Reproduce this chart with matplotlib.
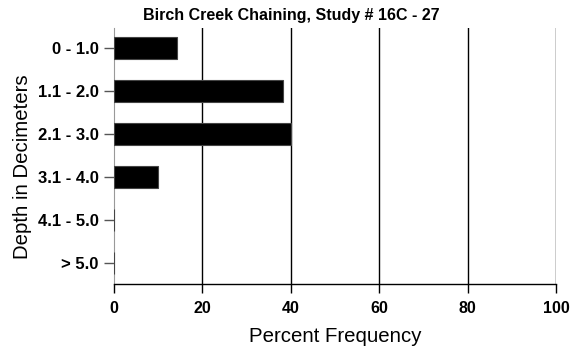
import matplotlib
matplotlib.use("Agg")
import matplotlib.pyplot as plt

# depth classes (top to bottom) and their percent frequency
depths = ['0 - 1.0', '1.1 - 2.0', '2.1 - 3.0', '3.1 - 4.0', '4.1 - 5.0', '> 5.0']
freq = [14.3, 38.2, 40.0, 10.0, 0.0, 0.0]
xticks = [0, 20, 40, 60, 80, 100]

plt.rcParams['font.family'] = ['Liberation Sans', 'DejaVu Sans']

fig = plt.figure(figsize=(5.72, 3.47), dpi=100)
ax = fig.add_axes([0.1993, 0.1816, 0.7727, 0.7374])

ypos = list(range(len(depths)))
ax.barh(ypos, freq, height=0.52, color='black', edgecolor='#444444', linewidth=0.8, zorder=3)

ax.set_xlim(0, 100)
ax.set_ylim(5.49, -0.47)
ax.set_xticks(xticks)
ax.set_xticklabels([str(t) for t in xticks], fontweight='bold', fontsize=11.5)
ax.set_yticks(ypos)
ax.set_yticklabels(depths, fontweight='bold', fontsize=12)

# vertical grid lines
for t in xticks[1:]:
    ax.axvline(t, color='black', linewidth=1.0, zorder=1)

for s in ['top', 'right']:
    ax.spines[s].set_visible(False)
ax.spines['left'].set_color('#999999')
ax.spines['left'].set_linewidth(0.8)
ax.spines['bottom'].set_linewidth(1.0)

ax.tick_params(axis='x', length=6.5, width=1, pad=6)
ax.tick_params(axis='y', length=7, width=1, color='#555555', pad=4)

ax.set_xlabel('Percent Frequency', fontsize=14.7)
ax.xaxis.set_label_coords(0.5, -0.17)
ax.set_ylabel('Depth in Decimeters', fontsize=14.7)
ax.yaxis.set_label_coords(-0.186, 0.46)

fig.text(0.509, 0.955, 'Birch Creek Chaining, Study # 16C - 27', fontweight='bold',
         fontsize=11.5, ha='center', va='center')

fig.savefig('out.png', dpi=100)
